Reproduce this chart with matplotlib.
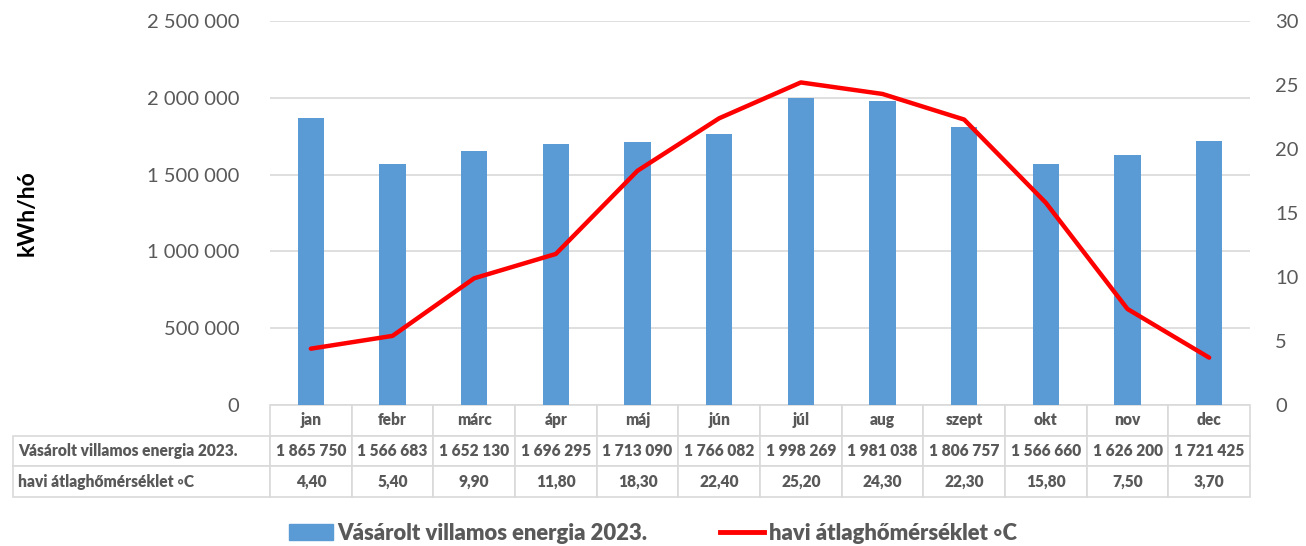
import numpy as np
import matplotlib.pyplot as plt
from matplotlib.patches import Patch
from matplotlib.lines import Line2D

months = ['jan', 'febr', 'márc', 'ápr', 'máj', 'jún', 'júl', 'aug', 'szept', 'okt', 'nov', 'dec']
energy = [1865750, 1566683, 1652130, 1696295, 1713090, 1766082,
          1998269, 1981038, 1806757, 1566660, 1626200, 1721425]
temp = [4.40, 5.40, 9.90, 11.80, 18.30, 22.40, 25.20, 24.30, 22.30, 15.80, 7.50, 3.70]
energy_label = 'Vásárolt villamos energia 2023.'
temp_label = 'havi átlaghőmérséklet ◦C'

plt.rcParams['font.family'] = ['Lato', 'DejaVu Sans']
grey = '#595959'

def fmt_hu(v):
    return f'{int(v):,}'.replace(',', ' ')

fig = plt.figure(figsize=(13.06, 5.46), dpi=100)
ax = fig.add_axes([270/1306, 1-405/546, 980/1306, 384/546])
x = np.arange(len(months))
ax.bar(x, energy, width=0.32, color='#5b9bd5', zorder=2)
ax.set_xlim(-0.5, len(months)-0.5)
ax.set_ylim(0, 2500000)
ax.set_yticks(np.arange(0, 2500001, 500000))
ax.set_yticklabels([fmt_hu(v) for v in np.arange(0, 2500001, 500000)])
ax.grid(axis='y', color='#d9d9d9', linewidth=1.2, zorder=0)
ax.set_xticks([])
for s in ax.spines.values():
    s.set_visible(False)
ax.tick_params(axis='y', length=0, labelsize=14.5, colors=grey, pad=22)
fig.text(27/1306, 1-213/546, 'kWh/hó', rotation=90, ha='center', va='center',
         fontsize=16.5, fontweight=700, family='Lato', color='black')

ax2 = ax.twinx()
ax2.plot(x, temp, color='#ff0000', linewidth=3.2, solid_capstyle='round', zorder=3)
ax2.set_ylim(0, 30)
ax2.set_yticks(range(0, 31, 5))
for s in ax2.spines.values():
    s.set_visible(False)
ax2.tick_params(axis='y', length=0, labelsize=14.5, colors=grey, pad=18)

# data table
rows = [[''] + months,
        [energy_label] + [fmt_hu(v) for v in energy],
        [temp_label] + [f'{t:.2f}'.replace('.', ',') for t in temp]]
lw = 257 / 980
tbl = ax.table(cellText=rows, colWidths=[lw] + [1/12]*12,
               bbox=[-lw, -92/384, 1 + lw, 92/384], cellLoc='center')
tbl.auto_set_font_size(False)
for (r, c), cell in tbl.get_celld().items():
    cell.set_edgecolor('#d9d9d9')
    cell.set_linewidth(1.2)
    t = cell.get_text()
    t.set_color(grey)
    t.set_family('Lato')
    t.set_fontweight(800)
    t.set_fontsize(11.2)
    if c == 0:
        t.set_ha('left')
        cell.PAD = 0.02
        cell._loc = 'left'
    if r == 0 and c == 0:
        cell.visible_edges = ''

handles = [Patch(color='#5b9bd5'), Line2D([], [], color='#ff0000', linewidth=3.5)]
leg = fig.legend(handles, [energy_label, temp_label], loc='center',
                 bbox_to_anchor=(0.5, 1-533/546), ncol=2, frameon=False,
                 prop={'family': 'Lato', 'weight': 800, 'size': 15.8},
                 handlelength=2.0, handleheight=0.7, columnspacing=3.3, handletextpad=0.2)
for t in leg.get_texts():
    t.set_color(grey)

fig.savefig('out.png', dpi=100)
